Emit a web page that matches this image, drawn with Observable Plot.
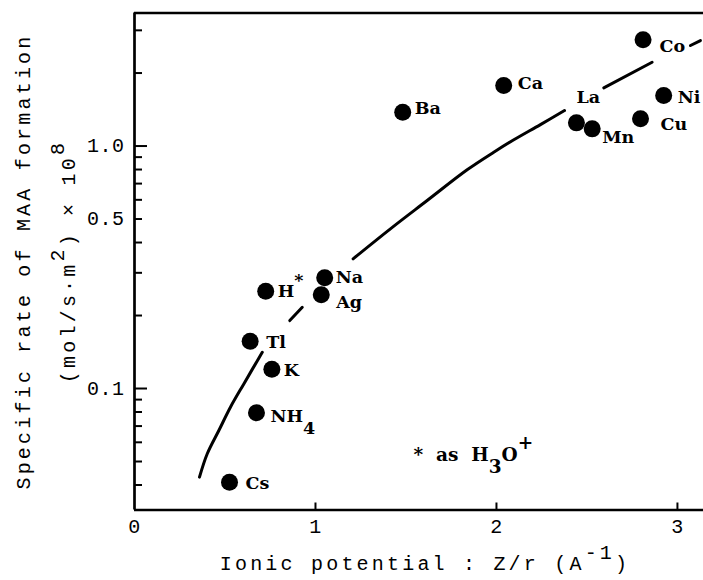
<!DOCTYPE html>
<html>
<head>
<meta charset="utf-8">
<script src="https://cdn.jsdelivr.net/npm/d3@7"></script>
<script src="https://cdn.jsdelivr.net/npm/@observablehq/plot@0.6"></script>
<style>
  body { margin: 0; background: #fff; }
</style>
</head>
<body>
<div id="chart"></div>
<script>
// ---- data ----
const ions = ["Cs", "NH4", "Tl", "K", "H", "Na", "Ag", "Ba", "Ca", "La", "Mn", "Co", "Ni", "Cu"];
const ionLabels = ["Cs", "NH_{4}", "Tl", "K", "H^{*}", "Na", "Ag", "Ba", "Ca", "La", "Mn", "Co", "Ni", "Cu"];
const ionicPotential = [0.525, 0.674, 0.639, 0.759, 0.725, 1.051, 1.032, 1.482, 2.040, 2.442, 2.529, 2.810, 2.924, 2.796];
const specificRate = [0.0411, 0.0794, 0.1566, 0.120, 0.252, 0.286, 0.2436, 1.378, 1.776, 1.246, 1.177, 2.741, 1.615, 1.295];

// hand-drawn trend curve (drawn in separate strokes)
const curveSegment = [1, 1, 1, 1, 1, 1, 2, 2, 3, 3, 3, 3, 3, 3, 3, 3, 4, 4, 5, 5];
const curveX = [0.359, 0.402, 0.466, 0.530, 0.604, 0.706, 0.858, 0.927, 1.208, 1.414, 1.617, 1.838, 1.985, 2.096, 2.243, 2.376, 2.593, 2.860, 3.072, 3.127];
const curveY = [0.0431, 0.0538, 0.0671, 0.0837, 0.1045, 0.141, 0.1907, 0.2163, 0.3427, 0.4556, 0.596, 0.798, 0.943, 1.061, 1.226, 1.401, 1.738, 2.216, 2.597, 2.723];

const xTickValues = [1, 2, 3];
const xTickLabels = [0, 1, 2, 3];
const yMajorTicks = [0.1, 1];
const yMinorTicks = [0.04, 0.05, 0.06, 0.07, 0.08, 0.09, 0.2, 0.3, 0.4, 0.5, 0.6, 0.7, 0.8, 0.9, 2, 3];
const yTickLabels = [0.1, 0.5, 1.0];
const xDomain = [0, 3.144];
const yDomain = [0.03155, 3.537];

const xTitle = "Ionic potential : Z/r (A^{-1})";
const yTitle1 = "Specific rate of MAA formation";
const yTitle2 = "(mol/s\u00b7m^{2}) \u00d7 10^{8}";
const noteText = "*\u00a0\u00a0as\u00a0 H_{3}O^{+}";
const noteX = 1.541, noteY = 0.0534;

// ---- layout / style ----
const W = 703, H = 580;
const mL = 134, mR = 0, mT = 12.5, mB = 70.5;
const frameW = W - mL - mR, frameH = H - mT - mB;
const mono = "Liberation Mono";
const serif = "DejaVu Serif";
const labelOffsets = {
  Cs: [16, 1], NH4: [14, 4], Tl: [16, 1], K: [12, 1.5], H: [12, 0], Na: [11, 0], Ag: [15, 7.5],
  Ba: [12, -3.4], Ca: [14, -1.7], La: [0, -25], Mn: [10, 8.4], Co: [16.5, 6.4], Ni: [14, 1.7], Cu: [20, 5.7]
};

const curveRows = curveX.map((x, i) => ({seg: curveSegment[i], x, y: curveY[i]}));
const pointRows = ions.map((ion, i) => ({ion, label: ionLabels[i], x: ionicPotential[i], y: specificRate[i]}));

const tag = name => () => name;

const chart = Plot.plot({
  width: W, height: H,
  marginLeft: mL, marginRight: mR, marginTop: mT, marginBottom: mB,
  x: {domain: xDomain, axis: null},
  y: {type: "log", domain: yDomain, axis: null},
  style: {background: "white", color: "black", fontFamily: mono, overflow: "visible"},
  marks: [
    // frame (top, left, bottom)
    Plot.ruleY([yDomain[1]], {strokeWidth: 2.6}),
    Plot.ruleY([yDomain[0]], {strokeWidth: 2.6}),
    Plot.ruleX([xDomain[0]], {strokeWidth: 2.7}),
    // inward ticks
    Plot.ruleY(yMinorTicks, {y: d => d, insetRight: frameW - 8, strokeWidth: 2}),
    Plot.ruleY(yMajorTicks, {y: d => d, insetRight: frameW - 13, strokeWidth: 2}),
    Plot.ruleX(xTickValues, {x: d => d, insetTop: frameH - 7, strokeWidth: 2}),
    // tick labels
    Plot.text(yTickLabels, {y: d => d, frameAnchor: "left", dx: -10, textAnchor: "end", text: d => d.toFixed(1),
      fontSize: 20, ariaLabel: tag("tick-label")}),
    Plot.text(xTickLabels, {x: d => d, frameAnchor: "bottom", dy: 23, textAnchor: "middle", text: d => String(d),
      fontSize: 20, ariaLabel: tag("tick-label")}),
    // axis titles
    Plot.text([xTitle], {frameAnchor: "bottom", dx: 6, dy: 59.5, textAnchor: "middle", text: d => d,
      fontSize: 20, ariaLabel: tag("axis-title")}),
    Plot.text([yTitle1], {frameAnchor: "left", rotate: -90, dx: 23 - mL, textAnchor: "middle", text: d => d,
      fontSize: 20, ariaLabel: tag("axis-title")}),
    Plot.text([yTitle2], {frameAnchor: "left", rotate: -90, dx: 68 - mL, textAnchor: "middle", text: d => d,
      fontSize: 20, ariaLabel: tag("axis-title")}),
    // trend curve
    Plot.line(curveRows, {x: "x", y: "y", z: "seg", curve: "catmull-rom", strokeWidth: 3, stroke: "black"}),
    // points
    Plot.dot(pointRows, {x: "x", y: "y", r: 8.5, fill: "black", stroke: "none"}),
    // point labels
    ...pointRows.map(p => Plot.text([p], {
      x: "x", y: "y", text: "label", dx: labelOffsets[p.ion][0], dy: labelOffsets[p.ion][1],
      textAnchor: "start", fontFamily: serif, fontWeight: "bold", fontSize: 17.5, ariaLabel: tag("ion-label")
    })),
    // note
    Plot.text([noteText], {x: () => noteX, y: () => noteY, text: d => d, textAnchor: "start",
      fontFamily: serif, fontWeight: "bold", fontSize: 18.5, ariaLabel: tag("note")})
  ]
});

// letter spacing to mimic typewriter pitch
d3.select(chart).selectAll('text[aria-label="axis-title"]').style("letter-spacing", "3.2px");
d3.select(chart).selectAll('text[aria-label="tick-label"]').style("letter-spacing", "0.5px");

// superscripts / subscripts
const shifts = {"axis-title": ["55%", "-55%"], "ion-label": ["62%", "-68%"], "note": ["65%", "-67%"]};
d3.select(chart).selectAll("text").each(function() {
  const t = this.textContent;
  if (!/[\^_]\{/.test(t)) return;
  const s = shifts[this.getAttribute("aria-label")] || ["50%", "-50%"];
  const node = d3.select(this);
  node.text(null);
  const re = /([\^_])\{([^}]*)\}/g;
  let last = 0, m;
  while ((m = re.exec(t))) {
    if (m.index > last) node.append("tspan").text(t.slice(last, m.index));
    node.append("tspan").attr("baseline-shift", m[1] === "^" ? s[0] : s[1]).text(m[2]);
    last = re.lastIndex;
  }
  if (last < t.length) node.append("tspan").text(t.slice(last));
});

document.getElementById("chart").appendChild(chart);
</script>
</body>
</html>
